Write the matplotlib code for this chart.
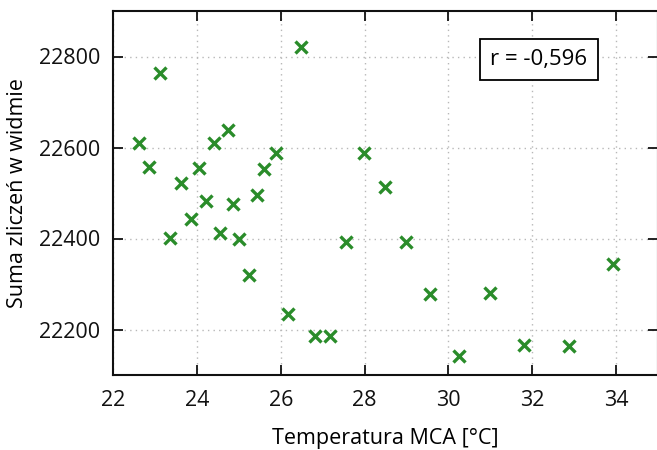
import matplotlib
matplotlib.use("Agg")
import matplotlib.pyplot as plt

plt.rcParams['font.family'] = ['Open Sans', 'DejaVu Sans']

temperature = [22.63, 22.87, 23.13, 23.37, 23.62, 23.87, 24.06, 24.23, 24.42, 24.56,
               24.74, 24.87, 25.00, 25.24, 25.43, 25.61, 25.88, 26.18, 26.49, 26.82,
               27.17, 27.55, 27.98, 28.48, 29.00, 29.56, 30.25, 30.99, 31.80, 32.87, 33.93]
counts = [22610, 22557, 22763, 22401, 22522, 22442, 22556, 22482, 22609, 22412,
          22638, 22475, 22398, 22319, 22496, 22552, 22589, 22235, 22820, 22186,
          22185, 22392, 22587, 22513, 22392, 22279, 22141, 22281, 22166, 22163, 22345]
x_ticks = [22, 24, 26, 28, 30, 32, 34]
y_ticks = [22200, 22400, 22600, 22800]
annotation = "r = -0,596"

fig = plt.figure(figsize=(6.57, 4.5), dpi=100)
ax = fig.add_axes([113/657, 75/450, 545/657, 364/450])

ax.plot(temperature, counts, linestyle='none', marker='x', color='#2a8c2a',
        markersize=8.5, markeredgewidth=2.4, zorder=3)

ax.set_xlim(22, 35)
ax.set_ylim(22100, 22900)
ax.set_xticks(x_ticks)
ax.set_yticks(y_ticks)
ax.grid(True, linestyle=(0, (1, 3)), color='#b8b8b8', linewidth=1.0)
ax.tick_params(direction='in', length=7, width=1.3, labelsize=15.5, top=True, right=True,
               colors='#111111')
ax.tick_params(axis='x', pad=11)
ax.tick_params(axis='y', pad=9)
for s in ax.spines.values():
    s.set_linewidth(1.5)
    s.set_color('#111111')

ax.set_xlabel("Temperatura MCA [°C]", fontsize=15.5, labelpad=12)
ax.set_ylabel("Suma zliczeń w widmie", fontsize=15.5, labelpad=8)

ax.text(0.7817, 0.866, annotation, transform=ax.transAxes, fontsize=16,
        ha='center', va='center',
        bbox=dict(boxstyle='square,pad=0.45', facecolor='white', edgecolor='black', linewidth=1.3),
        zorder=5)

fig.savefig("out.png", dpi=100)
